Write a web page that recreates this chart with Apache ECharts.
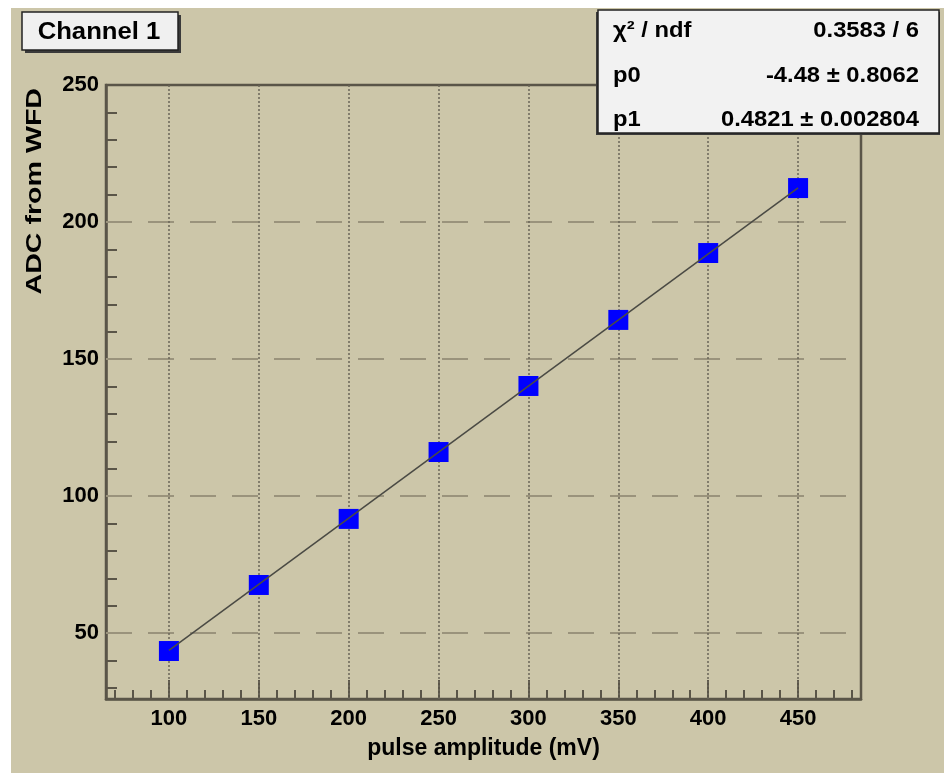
<!DOCTYPE html>
<html>
<head>
<meta charset="utf-8">
<script src="https://cdn.jsdelivr.net/npm/echarts@6/dist/echarts.min.js"></script>
<style>
html,body{margin:0;padding:0;background:#ffffff;}
#bg{position:absolute;left:11px;top:8px;width:933px;height:765px;background:#ccc6a9;}
#main{position:absolute;left:0;top:0;width:944px;height:773px;}
</style>
</head>
<body>
<div id="bg"></div>
<div id="main"></div>
<script>
// ---- data ----
const pulseAmplitude = [100, 150, 200, 250, 300, 350, 400, 450];
const adcValues = [43.5, 67.6, 91.7, 116.1, 140.2, 164.3, 188.7, 212.4];
const fitP0 = -4.48;
const fitP1 = 0.4821;
const fitRange = [100, 450];
const xTicks = [100, 150, 200, 250, 300, 350, 400, 450];
const xMinor = [70, 80, 90, 110, 120, 130, 140, 160, 170, 180, 190, 210, 220, 230, 240, 260, 270, 280, 290, 310, 320, 330, 340, 360, 370, 380, 390, 410, 420, 430, 440, 460, 470, 480];
const yTicks = [50, 100, 150, 200, 250];
const yMinor = [30, 40, 60, 70, 80, 90, 110, 120, 130, 140, 160, 170, 180, 190, 210, 220, 230, 240];
const yGrid = [50, 100, 150, 200];
const statsRows = [
  ['χ² / ndf', '0.3583 / 6'],
  ['p0', '-4.48 ± 0.8062'],
  ['p1', '0.4821 ± 0.002804']
];

const fitLine = fitRange.map(x => [x, fitP0 + fitP1 * x]);
const points = pulseAmplitude.map((x, i) => [x, adcValues[i]]);

const FONT = '"Liberation Sans", Arial, sans-serif';
const AX = '#5a5548';
const chart = echarts.init(document.getElementById('main'));

const labelStyle = {color: '#000', fontFamily: FONT, fontWeight: 'bold', fontSize: 22};

const rowY = [31, 76, 120];
const statsGraphics = [];
statsRows.forEach((r, i) => {
  const y = rowY[i];
  statsGraphics.push({type: 'text', x: 613, y: y, z: 101, scaleX: 1.08,
    style: {text: r[0], font: 'bold 22px ' + FONT, fill: '#000', align: 'left', verticalAlign: 'middle'}});
  statsGraphics.push({type: 'text', x: 919, y: y, z: 101, scaleX: 1.08,
    style: {text: r[1], font: 'bold 22px ' + FONT, fill: '#000', align: 'right', verticalAlign: 'middle'}});
});

chart.setOption({
  animation: false,
  backgroundColor: 'transparent',
  grid: {left: 106, right: 83, top: 85, bottom: 74, show: true,
    borderColor: AX, borderWidth: 2.5, backgroundColor: 'transparent'},
  xAxis: [
    {type: 'value', min: 65, max: 485,
      axisLine: {show: true, lineStyle: {color: AX, width: 2.5}},
      axisTick: {show: true, inside: true, length: 19, customValues: xTicks, lineStyle: {color: AX, width: 2}},
      axisLabel: Object.assign({customValues: xTicks, margin: 9}, labelStyle),
      splitLine: {show: false},
      name: 'pulse amplitude (mV)', nameLocation: 'middle', nameGap: 38,
      nameTextStyle: {color: '#000', fontFamily: FONT, fontWeight: 'bold', fontSize: 23}
    },
    {type: 'value', min: 65, max: 485, position: 'bottom',
      axisLine: {show: false},
      axisTick: {show: true, inside: true, length: 9, customValues: xMinor, lineStyle: {color: AX, width: 2}},
      axisLabel: {show: false}, splitLine: {show: false}
    }
  ],
  yAxis: [
    {type: 'value', min: 26, max: 250,
      axisLine: {show: true, lineStyle: {color: AX, width: 2.5}},
      axisTick: {show: true, inside: true, length: 12, customValues: yTicks, lineStyle: {color: AX, width: 2}},
      axisLabel: Object.assign({customValues: yTicks, margin: 7}, labelStyle),
      splitLine: {show: false}
    },
    {type: 'value', min: 26, max: 250, position: 'left',
      axisLine: {show: false},
      axisTick: {show: true, inside: true, length: 11, customValues: yMinor, lineStyle: {color: AX, width: 2}},
      axisLabel: {show: false}, splitLine: {show: false}
    }
  ],
  graphic: [
    {type: 'text', x: 35, y: 88, rotation: Math.PI / 2, scaleX: 1.3, z: 50,
      style: {text: 'ADC from WFD', font: 'bold 22px ' + FONT, fill: '#000', align: 'right', verticalAlign: 'middle'}},
    {type: 'rect', shape: {x: 25, y: 15, width: 156, height: 38}, z: 99, style: {fill: '#3a3a3a'}},
    {type: 'rect', shape: {x: 22, y: 12, width: 156, height: 38}, z: 100,
      style: {fill: '#f0f0f0', stroke: '#222', lineWidth: 1.5}},
    {type: 'text', x: 99, y: 32, z: 101, scaleX: 1.07,
      style: {text: 'Channel 1', font: 'bold 24px ' + FONT, fill: '#000', align: 'center', verticalAlign: 'middle'}},
    {type: 'rect', shape: {x: 596, y: 12, width: 344, height: 123}, z: 99, style: {fill: '#3a3a3a'}},
    {type: 'rect', shape: {x: 598, y: 10, width: 341, height: 123}, z: 100,
      style: {fill: '#f2f2f2', stroke: '#222', lineWidth: 1.5}}
  ].concat(statsGraphics),
  series: [
    {type: 'line', data: [], xAxisIndex: 0, yAxisIndex: 0, z: 1, silent: true,
      markLine: {silent: true, z: 1, symbol: 'none', label: {show: false}, animation: false,
        data: yGrid.map(v => ({yAxis: v, lineStyle: {type: [26, 16], color: '#9a937c', width: 2}}))
          .concat(xTicks.map(v => ({xAxis: v, lineStyle: {type: [2, 2], color: '#6a6658', width: 1.5}})))
      }
    },
    {type: 'scatter', data: points, symbol: 'rect', symbolSize: 20, z: 3,
      itemStyle: {color: '#0000ff', opacity: 1}},
    {type: 'line', data: fitLine, symbol: 'none', z: 4,
      lineStyle: {color: '#4a4a44', width: 1.5}}
  ]
});
</script>
</body>
</html>
